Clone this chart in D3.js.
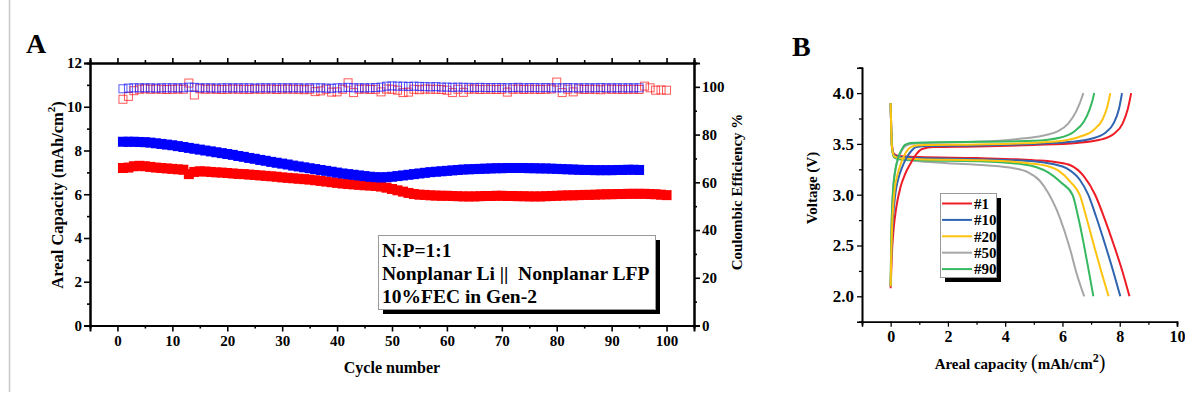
<!DOCTYPE html>
<html>
<head>
<meta charset="utf-8">
<script src="https://cdn.jsdelivr.net/npm/d3@7"></script>
<style>
  body { margin: 0; background: #fff; }
  svg text { font-family: "Liberation Serif", "Times New Roman", serif; font-weight: bold; fill: #000; }
</style>
</head>
<body>
<div id="vis"></div>
<script>
// ---- panel A data (cycle 1..n) ----
const redCapacity = [
  7.20, 7.22, 7.28, 7.30, 7.28, 7.25, 7.22, 7.20, 7.18, 7.16,
  7.14, 7.12, 6.92, 7.02, 7.05, 7.04, 7.02, 7.00, 6.99, 6.97,
  6.95, 6.93, 6.92, 6.90, 6.88, 6.86, 6.84, 6.82, 6.80, 6.77,
  6.75, 6.73, 6.71, 6.69, 6.67, 6.64, 6.61, 6.58, 6.55, 6.52,
  6.49, 6.47, 6.45, 6.43, 6.41, 6.40, 6.38, 6.35, 6.30, 6.24,
  6.18, 6.12, 6.06, 6.01, 5.98, 5.97, 5.95, 5.94, 5.93, 5.93,
  5.92, 5.91, 5.90, 5.90, 5.90, 5.91, 5.92, 5.92, 5.93, 5.93,
  5.92, 5.92, 5.91, 5.91, 5.90, 5.90, 5.90, 5.91, 5.92, 5.93,
  5.94, 5.95, 5.95, 5.96, 5.97, 5.97, 5.98, 5.99, 6.00, 6.00,
  6.01, 6.01, 6.02, 6.02, 6.02, 6.02, 6.01, 6.00, 5.98, 5.96
];
const blueCapacity = [
  8.40, 8.40, 8.40, 8.39, 8.38, 8.36, 8.33, 8.30, 8.27, 8.24,
  8.20, 8.16, 8.12, 8.08, 8.04, 8.00, 7.96, 7.92, 7.88, 7.84,
  7.80, 7.75, 7.71, 7.66, 7.62, 7.57, 7.53, 7.48, 7.44, 7.40,
  7.36, 7.31, 7.27, 7.23, 7.19, 7.15, 7.11, 7.07, 7.03, 6.99,
  6.95, 6.92, 6.89, 6.86, 6.83, 6.80, 6.78, 6.77, 6.78, 6.80,
  6.83, 6.86, 6.89, 6.92, 6.95, 6.98, 7.01, 7.03, 7.05, 7.07,
  7.09, 7.11, 7.13, 7.14, 7.15, 7.16, 7.17, 7.18, 7.19, 7.19,
  7.20, 7.20, 7.20, 7.20, 7.19, 7.19, 7.18, 7.18, 7.17, 7.16,
  7.15, 7.14, 7.13, 7.12, 7.11, 7.11, 7.10, 7.10, 7.10, 7.10,
  7.11, 7.11, 7.12, 7.12, 7.11
];
const redCE = [
  94.8, 96.0, 98.4, 99.0, 99.2, 99.0, 99.1, 99.0, 98.9, 99.0,
  99.1, 99.0, 101.6, 96.6, 99.2, 99.0, 99.1, 99.0, 98.9, 99.0,
  99.1, 99.0, 99.0, 98.9, 99.1, 99.0, 99.0, 99.1, 98.9, 99.0,
  99.1, 99.0, 99.0, 98.8, 99.0, 98.0, 98.3, 99.0, 97.8, 97.9,
  99.0, 101.7, 97.6, 99.0, 99.1, 98.9, 99.0, 97.9, 99.1, 99.0,
  98.6, 97.6, 97.8, 99.0, 98.8, 99.1, 99.0, 99.0, 98.9, 98.6,
  97.6, 99.0, 97.7, 99.0, 99.1, 98.9, 99.0, 99.0, 98.9, 99.0,
  97.8, 99.0, 99.1, 98.9, 99.0, 99.0, 98.9, 99.0, 99.1, 102.0,
  97.6, 99.0, 97.9, 99.1, 98.9, 99.0, 99.0, 98.8, 99.1, 99.0,
  99.0, 98.9, 99.0, 99.0, 98.9, 100.3, 99.6, 98.6, 98.7, 98.6
];
const blueCE = [
  99.2, 99.5, 99.6, 99.6, 99.6, 99.6, 99.5, 99.6, 99.6, 99.6,
  99.6, 99.6, 99.9, 99.8, 99.6, 99.6, 99.6, 99.5, 99.6, 99.6,
  99.6, 99.6, 99.6, 99.6, 99.5, 99.6, 99.6, 99.6, 99.6, 99.6,
  99.6, 99.6, 99.6, 99.5, 99.6, 99.6, 99.6, 99.5, 99.4, 99.6,
  99.6, 99.8, 99.6, 99.6, 99.6, 99.6, 99.7, 99.9, 100.3, 100.4,
  100.3, 100.3, 100.2, 100.3, 100.2, 100.1, 100.0, 100.1, 99.9, 99.9,
  99.8, 99.9, 99.8, 99.8, 99.7, 99.8, 99.7, 99.7, 99.7, 99.7,
  99.6, 99.7, 99.8, 99.6, 99.7, 99.7, 99.6, 99.7, 99.6, 99.6,
  99.6, 99.7, 99.6, 99.6, 99.6, 99.6, 99.6, 99.7, 99.6, 99.6,
  99.6, 99.6, 99.6, 99.6, 99.6
];
const capTicks = [0, 2, 4, 6, 8, 10, 12];
const cycleTicks = [0, 10, 20, 30, 40, 50, 60, 70, 80, 90, 100];
const ceTicks = [0, 20, 40, 60, 80, 100];
const legendA = ["N:P=1:1", "Nonplanar Li ||  Nonplanar LFP", "10%FEC in Gen-2"];

// ---- panel B data: [capacity, voltage] ----
const cycleNames = ["#1", "#10", "#20", "#50", "#90"];
const cycleColors = ["#ee1c25", "#2e64b0", "#ffc20e", "#a6a6a6", "#36b860"];
const chargeCurves = [
  [[0,2.08],[0.04,2.4],[0.1,2.65],[0.2,2.88],[0.35,3.08],[0.5,3.2],[0.7,3.31],[0.9,3.4],[1.1,3.45],[1.5,3.47],[3,3.475],[5,3.49],[6.5,3.51],[7.3,3.54],[7.8,3.6],[8.1,3.7],[8.28,3.84],[8.4,4.0]],
  [[0,2.1],[0.03,2.45],[0.08,2.75],[0.16,3.0],[0.28,3.17],[0.4,3.27],[0.55,3.36],[0.72,3.43],[0.9,3.47],[1.3,3.48],[3,3.485],[5,3.5],[6.3,3.52],[7.0,3.55],[7.5,3.61],[7.8,3.71],[7.97,3.84],[8.08,4.0]],
  [[0,2.1],[0.03,2.5],[0.07,2.8],[0.14,3.05],[0.24,3.2],[0.35,3.3],[0.48,3.39],[0.62,3.45],[0.8,3.48],[1.2,3.49],[3,3.495],[5,3.51],[6.0,3.53],[6.6,3.57],[7.1,3.64],[7.4,3.74],[7.56,3.86],[7.67,4.0]],
  [[0,2.1],[0.02,2.55],[0.05,2.85],[0.1,3.1],[0.17,3.25],[0.26,3.35],[0.38,3.43],[0.52,3.48],[0.7,3.5],[1.2,3.51],[3,3.52],[4.5,3.55],[5.3,3.58],[5.8,3.62],[6.2,3.7],[6.48,3.82],[6.63,3.92],[6.73,4.0]],
  [[0,2.1],[0.02,2.55],[0.05,2.85],[0.1,3.1],[0.18,3.27],[0.27,3.37],[0.38,3.44],[0.5,3.49],[0.7,3.51],[1.2,3.515],[3,3.52],[5,3.53],[5.9,3.56],[6.4,3.62],[6.75,3.72],[6.95,3.84],[7.05,3.93],[7.11,4.0]]
];
const dischargeCurves = [
  [[0,3.9],[0.02,3.65],[0.05,3.48],[0.12,3.4],[0.3,3.38],[1,3.37],[3,3.36],[5,3.34],[5.8,3.32],[6.28,3.29],[6.75,3.18],[7.14,3.0],[7.45,2.78],[7.8,2.5],[8.1,2.24],[8.34,2.0]],
  [[0,3.9],[0.02,3.65],[0.05,3.47],[0.12,3.39],[0.3,3.37],[1,3.36],[3,3.35],[5,3.33],[5.7,3.3],[6.15,3.26],[6.6,3.15],[6.9,3.0],[7.18,2.78],[7.5,2.5],[7.78,2.24],[8.02,2.0]],
  [[0,3.9],[0.02,3.65],[0.05,3.46],[0.12,3.38],[0.3,3.36],[1,3.35],[3,3.34],[4.8,3.31],[5.5,3.28],[5.9,3.23],[6.3,3.12],[6.6,3.0],[6.85,2.76],[7.1,2.5],[7.36,2.24],[7.61,2.0]],
  [[0,3.9],[0.02,3.65],[0.05,3.45],[0.12,3.37],[0.3,3.35],[1,3.33],[2,3.31],[3.3,3.29],[4.3,3.26],[4.8,3.22],[5.2,3.14],[5.5,3.02],[5.8,2.85],[6.05,2.66],[6.28,2.45],[6.5,2.22],[6.76,2.0]],
  [[0,3.9],[0.02,3.65],[0.05,3.45],[0.12,3.37],[0.3,3.35],[1,3.34],[3,3.33],[4.6,3.3],[5.1,3.27],[5.5,3.22],[5.95,3.12],[6.35,3.0],[6.55,2.78],[6.72,2.55],[6.9,2.28],[7.08,2.0]]
];
const voltTicks = [2.0, 2.5, 3.0, 3.5, 4.0];
const areaTicks = [0, 2, 4, 6, 8, 10];

const svg = d3.select("#vis").append("svg")
  .attr("width", 1185).attr("height", 396);
svg.append("rect").attr("width", 1185).attr("height", 396).attr("fill", "#fff");

// faint frame line at the left edge
svg.append("line").attr("x1", 9.5).attr("x2", 9.5).attr("y1", 0).attr("y2", 392)
  .attr("stroke", "#c8c8c8").attr("stroke-width", 1.5);

// helper: style an axis group
function styleAxis(g, w, fs) {
  g.select(".domain").attr("stroke", "#000").attr("stroke-width", w);
  g.selectAll(".tick line").attr("stroke", "#000").attr("stroke-width", w * 0.8);
  g.selectAll(".tick text").attr("font-size", fs).attr("fill", "#000");
}

// ================= Panel A =================
const xA = d3.scaleLinear().domain([-5, 105]).range([90, 694]);
const yA = d3.scaleLinear().domain([0, 12]).range([325.5, 63]);
const yCE = d3.scaleLinear().domain([0, 110]).range([325.5, 63]);
const minor = (a, b, s) => d3.range(a, b + 0.001, s);

const gA = svg.append("g");

gA.append("g").attr("transform", "translate(0,325.5)")
  .call(d3.axisBottom(xA).tickValues(minor(-5, 105, 10)).tickSize(3).tickFormat(""))
  .call(g => styleAxis(g, 2, 15));
gA.append("g").attr("transform", "translate(0,325.5)")
  .call(d3.axisBottom(xA).tickValues(cycleTicks).tickSize(6).tickPadding(4))
  .call(g => styleAxis(g, 2, 15));
gA.append("g").attr("transform", "translate(0,63)")
  .call(d3.axisTop(xA).tickValues(minor(-5, 105, 10)).tickSize(3).tickFormat(""))
  .call(g => styleAxis(g, 2, 15));
gA.append("g").attr("transform", "translate(0,63)")
  .call(d3.axisTop(xA).tickValues(cycleTicks).tickSize(5).tickFormat(""))
  .call(g => styleAxis(g, 2, 15));
gA.append("g").attr("transform", "translate(90,0)")
  .call(d3.axisLeft(yA).tickValues(minor(1, 11, 2)).tickSize(3).tickFormat(""))
  .call(g => styleAxis(g, 2, 15));
gA.append("g").attr("transform", "translate(90,0)")
  .call(d3.axisLeft(yA).tickValues(capTicks).tickSize(6).tickPadding(2).tickFormat(d3.format("d")))
  .call(g => styleAxis(g, 2, 15));
gA.append("g").attr("transform", "translate(694,0)")
  .call(d3.axisRight(yCE).tickValues(minor(10, 110, 20)).tickSize(3).tickFormat(""))
  .call(g => styleAxis(g, 2, 15));
gA.append("g").attr("transform", "translate(694,0)")
  .call(d3.axisRight(yCE).tickValues(ceTicks).tickSize(6).tickPadding(2))
  .call(g => styleAxis(g, 2, 15));

// markers
function squares(data, yScale, color, filled, size) {
  gA.append("g").selectAll("rect")
    .data(data)
    .enter()
    .append("rect")
    .attr("x", (d, i) => xA(i + 1) - size / 2)
    .attr("y", d => yScale(d) - size / 2)
    .attr("width", size).attr("height", size)
    .attr("fill", filled ? color : "none")
    .attr("stroke", filled ? "none" : color)
    .attr("stroke-width", 1)
    .attr("stroke-opacity", 0.75);
}
squares(redCapacity, yA, "#ff0000", true, 10);
squares(blueCapacity, yA, "#0000ff", true, 10);
squares(redCE, yCE, "#ff2020", false, 8);
squares(blueCE, yCE, "#2020ff", false, 8);

// axis titles
const tA = gA.append("text").attr("transform", "translate(57,195) rotate(-90)")
  .attr("text-anchor", "middle").attr("dominant-baseline", "central").attr("font-size", 16.5);
tA.append("tspan").text("Areal Capacity (mAh/cm");
tA.append("tspan").text("2").attr("font-size", 11).attr("dy", -6);
tA.append("tspan").text(")").attr("dy", 6);

gA.append("text").attr("transform", "translate(737,192) rotate(-90)")
  .attr("text-anchor", "middle").attr("dominant-baseline", "central").attr("font-size", 15)
  .text("Coulombic Efficiency %");
gA.append("text").attr("x", 392).attr("y", 373).attr("text-anchor", "middle")
  .attr("font-size", 16).text("Cycle number");
gA.append("text").attr("x", 26).attr("y", 53).attr("font-size", 28).text("A");

// legend box
gA.append("rect").attr("x", 383).attr("y", 240).attr("width", 277).attr("height", 74).attr("fill", "#000");
gA.append("rect").attr("x", 378.5).attr("y", 235.5).attr("width", 277).attr("height", 74)
  .attr("fill", "#fff").attr("stroke", "#999").attr("stroke-width", 1);
gA.selectAll("text.leg")
  .data(legendA)
  .enter()
  .append("text")
  .attr("class", "leg")
  .attr("x", 382)
  .attr("y", (d, i) => 257 + i * 23)
  .attr("font-size", 19.5)
  .attr("xml:space", "preserve")
  .style("white-space", "pre")
  .text(d => d);

// ================= Panel B =================
const xB = d3.scaleLinear().domain([-1, 10]).range([862, 1177]);
const yB = d3.scaleLinear().domain([1.75, 4.25]).range([321.7, 67.7]);
const gB = svg.append("g");

gB.append("g").attr("transform", "translate(0,321.7)")
  .call(d3.axisBottom(xB).tickValues(minor(-1, 9, 2)).tickSize(3).tickFormat(""))
  .call(g => styleAxis(g, 1.6, 16));
gB.append("g").attr("transform", "translate(0,321.7)")
  .call(d3.axisBottom(xB).tickValues(areaTicks).tickSize(5).tickPadding(4))
  .call(g => styleAxis(g, 1.6, 16));
gB.append("g").attr("transform", "translate(862,0)")
  .call(d3.axisLeft(yB).tickValues([1.75, 2.25, 2.75, 3.25, 3.75, 4.25]).tickSize(3).tickFormat(""))
  .call(g => styleAxis(g, 1.6, 16));
gB.append("g").attr("transform", "translate(862,0)")
  .call(d3.axisLeft(yB).tickValues(voltTicks).tickSize(5).tickPadding(3).tickFormat(d3.format(".1f")))
  .call(g => styleAxis(g, 1.6, 17));

const line = d3.line().x(d => xB(d[0])).y(d => yB(d[1])).curve(d3.curveMonotoneX);
const order = [0, 1, 3, 4, 2];
order.forEach(k => {
  gB.append("path").datum(dischargeCurves[k]).attr("d", line)
    .attr("fill", "none").attr("stroke", cycleColors[k]).attr("stroke-width", 2);
});
order.forEach(k => {
  gB.append("path").datum(chargeCurves[k]).attr("d", line)
    .attr("fill", "none").attr("stroke", cycleColors[k]).attr("stroke-width", 2);
});

gB.append("text").attr("transform", "translate(812,188) rotate(-90)")
  .attr("text-anchor", "middle").attr("dominant-baseline", "central").attr("font-size", 15)
  .text("Voltage (V)");
const tB = gB.append("text").attr("x", 1020).attr("y", 369).attr("text-anchor", "middle").attr("font-size", 15);
tB.append("tspan").text("Areal capacity ");
tB.append("tspan").text("(").attr("font-size", 20).attr("font-weight", "normal");
tB.append("tspan").text("mAh/cm");
tB.append("tspan").text("2").attr("font-size", 12).attr("dy", -7);
tB.append("tspan").text(")").attr("font-size", 20).attr("font-weight", "normal").attr("dy", 7);
gB.append("text").attr("x", 792).attr("y", 56).attr("font-size", 28).text("B");

// legend B
gB.append("rect").attr("x", 945).attr("y", 198).attr("width", 56).attr("height", 84).attr("fill", "#000");
gB.append("rect").attr("x", 940.5).attr("y", 193.5).attr("width", 56).attr("height", 84)
  .attr("fill", "#fff").attr("stroke", "#999").attr("stroke-width", 1);
const legB = gB.selectAll("g.legB")
  .data(cycleNames)
  .enter()
  .append("g")
  .attr("class", "legB")
  .attr("transform", (d, i) => `translate(0,${203.5 + i * 16.4})`);
legB.append("line").attr("x1", 942).attr("x2", 972).attr("y1", 0).attr("y2", 0)
  .attr("stroke", (d, i) => cycleColors[i]).attr("stroke-width", 2);
legB.append("text").attr("x", 974).attr("y", 0).attr("dy", "0.35em").attr("font-size", 15)
  .text(d => d);
</script>
</body>
</html>
